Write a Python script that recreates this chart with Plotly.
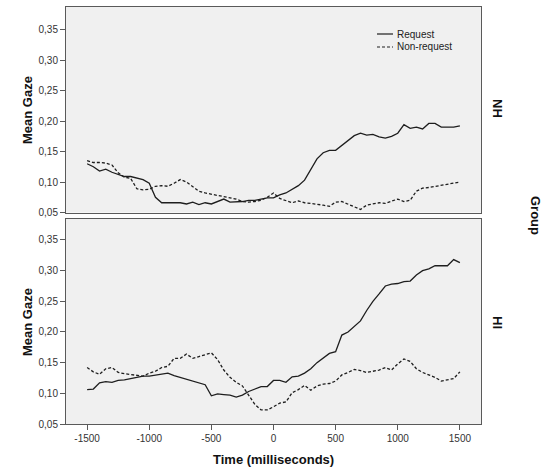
import plotly.graph_objects as go

time_ms = list(range(-1500, 1501, 50))

nh_request = [0.130, 0.125, 0.118, 0.121, 0.116, 0.112, 0.109, 0.109, 0.107, 0.104,
              0.098, 0.075, 0.066, 0.066, 0.066, 0.066, 0.064, 0.067, 0.063, 0.066,
              0.064, 0.068, 0.072, 0.067, 0.067, 0.068, 0.070, 0.070, 0.072, 0.074,
              0.074, 0.079, 0.082, 0.088, 0.094, 0.103, 0.120, 0.138, 0.148, 0.152,
              0.152, 0.160, 0.167, 0.176, 0.180, 0.177, 0.178, 0.174, 0.172, 0.175,
              0.180, 0.194, 0.188, 0.190, 0.187, 0.196, 0.196, 0.190, 0.190, 0.190,
              0.192]
nh_nonrequest = [0.135, 0.132, 0.132, 0.131, 0.128, 0.115, 0.108, 0.106, 0.089, 0.087,
                 0.088, 0.093, 0.094, 0.093, 0.098, 0.104, 0.100, 0.093, 0.085, 0.082,
                 0.080, 0.078, 0.076, 0.074, 0.072, 0.068, 0.067, 0.068, 0.070, 0.075,
                 0.082, 0.073, 0.069, 0.066, 0.069, 0.066, 0.065, 0.064, 0.062, 0.060,
                 0.067, 0.068, 0.064, 0.059, 0.055, 0.062, 0.064, 0.066, 0.065, 0.068,
                 0.072, 0.068, 0.070, 0.085, 0.090, 0.091, 0.093, 0.095, 0.097, 0.099,
                 0.100]
hi_request = [0.106, 0.107, 0.117, 0.119, 0.118, 0.121, 0.122, 0.124, 0.126, 0.128,
              0.128, 0.130, 0.131, 0.133, 0.129, 0.126, 0.123, 0.121, 0.117, 0.114,
              0.096, 0.099, 0.098, 0.097, 0.094, 0.097, 0.103, 0.107, 0.111, 0.111,
              0.121, 0.121, 0.118, 0.127, 0.128, 0.133, 0.140, 0.150, 0.158, 0.165,
              0.168, 0.195, 0.200, 0.209, 0.218, 0.235, 0.250, 0.262, 0.275, 0.278,
              0.279, 0.282, 0.283, 0.293, 0.300, 0.303, 0.308, 0.308, 0.308, 0.318,
              0.313]
hi_nonrequest = [0.142, 0.135, 0.131, 0.140, 0.142, 0.134, 0.132, 0.131, 0.130, 0.128,
                 0.133, 0.136, 0.142, 0.144, 0.157, 0.157, 0.164, 0.157, 0.160, 0.163,
                 0.166, 0.155, 0.138, 0.126, 0.118, 0.112, 0.096, 0.082, 0.073, 0.073,
                 0.078, 0.084, 0.086, 0.101, 0.106, 0.113, 0.105, 0.112, 0.115, 0.116,
                 0.120, 0.130, 0.134, 0.139, 0.137, 0.134, 0.136, 0.138, 0.142, 0.138,
                 0.148, 0.156, 0.152, 0.140, 0.134, 0.130, 0.126, 0.120, 0.122, 0.124,
                 0.135]

series_names = ["Request", "Non-request"]
group_labels = ["NH", "HI"]
y_tick_vals = [0.05, 0.10, 0.15, 0.20, 0.25, 0.30, 0.35]
y_tick_text = ["0,05", "0,10", "0,15", "0,20", "0,25", "0,30", "0,35"]
x_tick_vals = [-1500, -1000, -500, 0, 500, 1000, 1500]
x_tick_text = ["-1500", "-1000", "-500", "0", "500", "1000", "1500"]

LINE_C = "#1e1e1e"
BORDER = "#5a5a5a"
FONT = "Liberation Sans, Arial, sans-serif"
DASH = "3px,2px"

fig = go.Figure()
fig.add_trace(go.Scatter(x=time_ms, y=nh_request, mode="lines", name=series_names[0],
                         line=dict(color=LINE_C, width=1.3), xaxis="x", yaxis="y"))
fig.add_trace(go.Scatter(x=time_ms, y=nh_nonrequest, mode="lines", name=series_names[1],
                         line=dict(color=LINE_C, width=1.3, dash=DASH), xaxis="x", yaxis="y"))
fig.add_trace(go.Scatter(x=time_ms, y=hi_request, mode="lines", name=series_names[0],
                         line=dict(color=LINE_C, width=1.3), xaxis="x2", yaxis="y2"))
fig.add_trace(go.Scatter(x=time_ms, y=hi_nonrequest, mode="lines", name=series_names[1],
                         line=dict(color=LINE_C, width=1.3, dash=DASH), xaxis="x2", yaxis="y2"))

W, H = 547, 468
ml, mr, mt, mb = 66, 66, 7, 44
pw, ph = W - ml - mr, H - mt - mb

def py(px):
    return (H - mb - px) / ph

def pxx(px):
    return (px - ml) / pw

axis_common = dict(showline=True, linecolor=BORDER, linewidth=1, mirror=True,
                   showgrid=False, zeroline=False,
                   tickfont=dict(family=FONT, size=10, color="#333333"))

fig.update_layout(
    width=W, height=H,
    margin=dict(l=ml, r=mr, t=mt, b=mb),
    paper_bgcolor="white", plot_bgcolor="#f0f0f0",
    font=dict(family=FONT, color="#222222"),
    xaxis=dict(domain=[0, 1], range=[-1670, 1670], anchor="y", showticklabels=False,
               ticks="", **axis_common),
    xaxis2=dict(domain=[0, 1], range=[-1670, 1670], anchor="y2", ticks="outside",
                ticklen=5, tickcolor=BORDER, tickvals=x_tick_vals, ticktext=x_tick_text,
                **axis_common),
    yaxis=dict(domain=[py(212.5), 1], range=[0.05, 0.387], anchor="x", ticks="outside",
               ticklen=5, tickcolor=BORDER, tickvals=y_tick_vals, ticktext=y_tick_text,
               **axis_common),
    yaxis2=dict(domain=[0, py(218.5)], range=[0.05, 0.385], anchor="x2", ticks="outside",
                ticklen=5, tickcolor=BORDER, tickvals=y_tick_vals, ticktext=y_tick_text,
                **axis_common),
    showlegend=False,
)

# legend key (drawn as a small key box inside the top panel)
legend_rows = [(34, None), (47, DASH)]
for (ypx, dash), name in zip(legend_rows, series_names):
    fig.add_shape(type="line", xref="paper", yref="paper",
                  x0=pxx(377), x1=pxx(393), y0=py(ypx), y1=py(ypx),
                  line=dict(color=LINE_C, width=1.2, dash=dash))
    fig.add_annotation(xref="paper", yref="paper", showarrow=False, text=name,
                       x=pxx(395), y=py(ypx), xanchor="left", yanchor="middle",
                       font=dict(family=FONT, size=10, color="#222222"))

title_font = dict(family=FONT, size=13, color="#111111", weight="bold")
ann = [
    dict(text="Mean Gaze", x=pxx(27), y=py(110), textangle=-90),
    dict(text="Mean Gaze", x=pxx(27), y=py(322), textangle=-90),
    dict(text="Time (milliseconds)", x=pxx(273), y=py(460), textangle=0),
    dict(text=group_labels[0], x=pxx(498), y=py(108), textangle=90),
    dict(text=group_labels[1], x=pxx(498), y=py(322), textangle=90),
    dict(text="Group", x=pxx(536), y=py(215), textangle=90),
]
for a in ann:
    fig.add_annotation(xref="paper", yref="paper", showarrow=False,
                       xanchor="center", yanchor="middle", font=title_font, **a)

fig.write_html("out.html", config={"displayModeBar": False},
               post_script="document.body.style.margin='0';")
